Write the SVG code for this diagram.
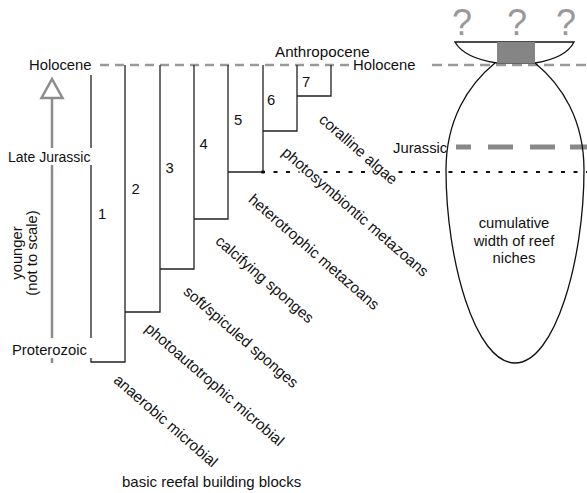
<svg xmlns="http://www.w3.org/2000/svg" width="587" height="493" viewBox="0 0 587 493">
<style>
text{font-family:"Liberation Sans",Arial,sans-serif;font-size:14.8px;fill:#111}
.bx{fill:none;stroke:#222;stroke-width:1.3}
.diag{font-size:15.2px;paint-order:stroke;stroke:#fff;stroke-width:4;stroke-linejoin:round}
.q{font-size:36px;fill:#999}
</style>
<rect width="587" height="493" fill="#fff"/>
<g id="connectors">
  <line x1="100" y1="65" x2="352" y2="65" stroke="#999" stroke-width="2.5" stroke-dasharray="9 6"/>
  <line x1="432" y1="65" x2="587" y2="65" stroke="#999" stroke-width="2.5" stroke-dasharray="10 6"/>
  <line x1="261" y1="172" x2="587" y2="172" stroke="#111" stroke-width="2" stroke-dasharray="4 8.5"/>
  <line x1="456" y1="147" x2="587" y2="147" stroke="#888" stroke-width="5" stroke-dasharray="15 17 25 17 25 15 30"/>
  <line x1="52" y1="98" x2="52" y2="363" stroke="#8c8c8c" stroke-width="2.5"/>
  <polygon points="52,79 41.5,98 62.5,98" fill="#fff" stroke="#8c8c8c" stroke-width="2.5"/>
</g>
<g id="box1"><polyline class="bx" points="91,75 91,362 125,362 125,65"/><text x="98" y="219">1</text></g>
<g id="box2"><polyline class="bx" points="125,312 160,312 160,65"/><text x="131.5" y="194">2</text></g>
<g id="box3"><polyline class="bx" points="160,269 194,269 194,65"/><text x="165.5" y="173">3</text></g>
<g id="box4"><polyline class="bx" points="194,219 228,219 228,65"/><text x="199.5" y="149">4</text></g>
<g id="box5"><polyline class="bx" points="228,172 263,172 263,65"/><rect x="261.5" y="170.5" width="3" height="3" fill="#111"/><text x="234" y="125">5</text></g>
<g id="box6"><polyline class="bx" points="263,131 297,131 297,65"/><text x="267" y="105">6</text></g>
<g id="box7"><polyline class="bx" points="297,96 331,96 331,65"/><text x="302" y="87">7</text></g>
<g id="niches">
  <path d="M495,63 C468,85 446,120 446,170 C446,260 475,363 515,363 C555,363 584,260 584,170 C584,120 562,85 535,63" fill="none" stroke="#111" stroke-width="1.3"/>
  <path d="M455,42 H574 Q566,58 535,63 H497 Q464,58 455,42 Z" fill="#fff" stroke="#111" stroke-width="1.3"/>
  <rect x="497" y="42" width="38" height="21.5" fill="#858585"/>
  <text class="q" x="462" y="35" text-anchor="middle">?</text>
  <text class="q" x="517" y="35" text-anchor="middle">?</text>
  <text class="q" x="566" y="35" text-anchor="middle">?</text>
  <text x="514" y="228" text-anchor="middle">cumulative</text>
  <text x="514" y="246" text-anchor="middle">width of reef</text>
  <text x="514" y="263" text-anchor="middle">niches</text>
</g>
<g id="timeline">
  <rect x="5" y="148" width="95" height="17" fill="#fff"/>
  <rect x="8" y="338" width="86" height="20" fill="#fff"/>
  <text x="29" y="70">Holocene</text>
  <text x="8" y="162" style="font-size:14px">Late Jurassic</text>
  <text x="12" y="355">Proterozoic</text>
  <text transform="translate(22,253) rotate(-90)" text-anchor="middle">younger</text>
  <text transform="translate(37,253) rotate(-90)" text-anchor="middle">(not to scale)</text>
  <text x="275" y="57" style="font-size:15.2px">Anthropocene</text>
  <text x="353" y="70">Holocene</text>
  <text x="393" y="153">Jurassic</text>
</g>
<g id="labels">
  <text class="diag" transform="translate(318,121) rotate(41)">coralline algae</text>
  <text class="diag" transform="translate(281,154) rotate(41)">photosymbiontic metazoans</text>
  <text class="diag" transform="translate(247.5,201) rotate(41)">heterotrophic metazoans</text>
  <text class="diag" transform="translate(214.6,242.6) rotate(41)">calcifying sponges</text>
  <text class="diag" transform="translate(182.6,293) rotate(41)">soft/spiculed sponges</text>
  <text class="diag" transform="translate(144,330) rotate(41)">photoautotrophic microbial</text>
  <text class="diag" transform="translate(112.7,381.5) rotate(41)">anaerobic microbial</text>
  <text x="122" y="487" style="font-size:15px">basic reefal building blocks</text>
</g>
</svg>
